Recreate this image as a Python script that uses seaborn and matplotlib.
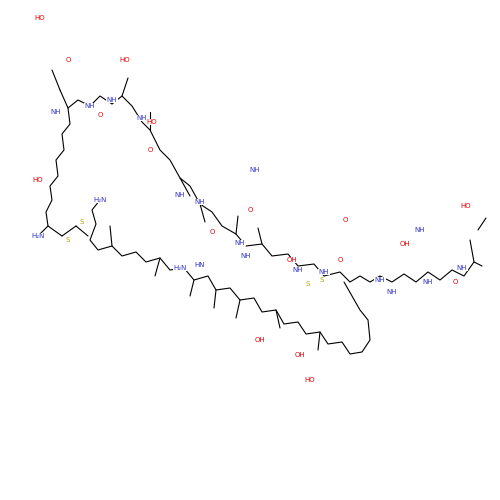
import matplotlib
matplotlib.use("Agg")
import matplotlib.pyplot as plt
import seaborn as sns
import pandas as pd

# skeleton (image pixel coords, y down)
chain_a_x = [38, 48, 46, 52, 50, 58, 56, 64, 62, 70, 68, 78, 90, 100, 112, 122, 132, 142, 150, 160, 170, 180,
             190, 200, 212, 222, 236, 246, 262, 272, 288, 298, 314, 324, 340, 350, 360, 370, 380, 392, 404,
             416, 428, 440, 452, 464, 474, 482]
chain_a_y = [236, 226, 212, 200, 186, 176, 160, 150, 134, 124, 108, 100, 106, 96, 104, 96, 106, 122, 130, 150,
             160, 178, 186, 204, 212, 226, 234, 246, 244, 256, 254, 266, 264, 276, 272, 282, 276, 282, 276,
             282, 274, 282, 272, 280, 270, 276, 262, 266]
chain_b_x = [100, 92, 96, 90, 98, 112, 122, 136, 146, 160, 170, 184, 194, 208, 216, 230, 240, 254, 262, 276,
             284, 298, 306, 320, 328, 342, 350, 362, 370, 368, 360, 352, 344]
chain_b_y = [200, 210, 224, 240, 250, 246, 256, 252, 262, 258, 270, 268, 280, 276, 290, 288, 300, 298, 312,
             310, 324, 322, 334, 332, 344, 342, 354, 352, 340, 320, 310, 296, 282]
# side chains as short segments (x0, y0, x1, y1)
side_x0 = [68, 60, 48, 62, 76, 122, 150, 180, 200, 236, 262, 160, 194, 240, 276, 320, 474, 478, 112, 216]
side_y0 = [108, 90, 226, 236, 226, 96, 130, 178, 204, 234, 244, 258, 280, 300, 310, 332, 262, 230, 246, 290]
side_x1 = [60, 52, 62, 76, 88, 128, 150, 190, 205, 238, 258, 155, 190, 236, 280, 318, 470, 486, 110, 214]
side_y1 = [90, 70, 236, 226, 236, 78, 112, 196, 222, 216, 228, 276, 296, 318, 328, 350, 240, 218, 226, 308]
labels = ["HO", "O", "HO", "H₂N", "H₂N", "S", "S", "NH", "NH", "NH", "NH", "NH", "O", "O", "O", "OH", "NH",
          "NH", "NH", "O", "HO", "NH", "NH", "O", "HN", "H₂N", "NH", "S", "S", "NH", "NH", "OH", "O", "HO",
          "NH", "HO", "NH", "O", "OH", "OH", "HO", "NH"]
label_x = [40, 68, 38, 38, 100, 68, 82, 56, 90, 112, 142, 200, 100, 150, 212, 292, 246, 298, 324, 340,
           152, 180, 240, 250, 200, 180, 380, 308, 322, 392, 428, 405, 455, 466, 462, 125, 255, 345, 260,
           300, 310, 420]
label_y = [18, 60, 180, 236, 200, 240, 222, 112, 106, 100, 118, 202, 115, 150, 232, 260, 256, 270, 272,
           260, 122, 195, 243, 210, 265, 268, 280, 284, 280, 292, 282, 244, 282, 206, 268, 60, 170, 220, 340,
           355, 380, 230]
label_c = {"O": "#e00000", "OH": "#e00000", "HO": "#e00000", "S": "#b8a000"}

sns.set_theme(style="white")
fig, ax = plt.subplots(figsize=(5, 5), dpi=100)
fig.subplots_adjust(0, 0, 1, 1)
for xs, ys in [(chain_a_x, chain_a_y), (chain_b_x, chain_b_y)]:
    sns.lineplot(data=pd.DataFrame({"x": xs, "y": ys}), x="x", y="y", sort=False, estimator=None,
                 color="black", lw=0.8, ax=ax)
for x0, y0, x1, y1 in zip(side_x0, side_y0, side_x1, side_y1):
    ax.plot([x0, x1], [y0, y1], color="black", lw=0.8)
for t, x, y in zip(labels, label_x, label_y):
    ax.text(x, y, t, fontsize=5, ha="center", va="center", color=label_c.get(t, "#3333cc"),
            bbox=dict(fc="white", ec="none", pad=0.3))
ax.set_xlim(0, 500)
ax.set_ylim(500, 0)
ax.axis("off")
fig.savefig("out.png", dpi=100, facecolor="white")
